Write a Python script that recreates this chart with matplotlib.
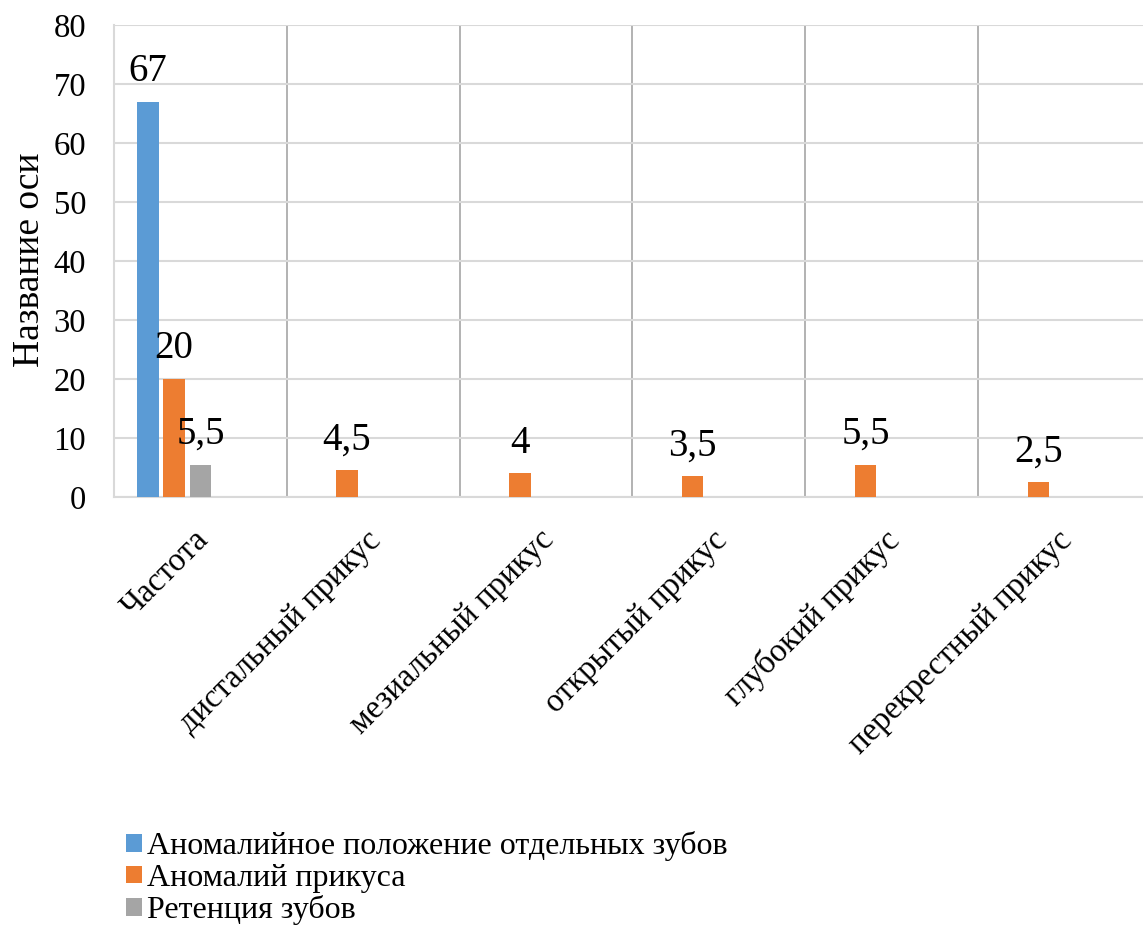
import matplotlib.pyplot as plt
import matplotlib.transforms as mtransforms
import numpy as np

plt.rcParams['font.family'] = ['Liberation Serif', 'DejaVu Serif']

categories = ["Частота", "дистальный прикус", "мезиальный прикус",
              "открытый прикус", "глубокий прикус", "перекрестный прикус"]
series_names = ["Аномалийное положение отдельных зубов", "Аномалий прикуса", "Ретенция зубов"]
teeth = [67, 0, 0, 0, 0, 0]
bite = [20, 4.5, 4, 3.5, 5.5, 2.5]
retention = [5.5, 0, 0, 0, 0, 0]
colors = ["#5B9BD5", "#ED7D31", "#A5A5A5"]

fig = plt.figure(figsize=(11.43, 9.30), dpi=100)
ax = fig.add_axes([114 / 1143, 433 / 930, 1037 / 1143, 472 / 930])

x = np.arange(len(categories))
pitch = 0.152
width = 0.125
offsets = [-2, -1, 0]

for vals, name, col, off in zip([teeth, bite, retention], series_names, colors, offsets):
    bars = ax.bar(x + off * pitch, vals, width, color=col, label=name, zorder=3)
    for b, v in zip(bars, vals):
        if v:
            txt = ("%g" % v).replace(".", ",")
            ax.text(b.get_x() + b.get_width() / 2, v + 2.0, txt,
                    ha="center", va="bottom", fontsize=28, zorder=4)

ax.set_xlim(-0.5, 5.5)
ax.set_ylim(0, 80)
ax.set_yticks(range(0, 81, 10))
ax.set_xticks(x)
ax.set_xticks(x[:-1] + 0.5, minor=True)
ax.tick_params(axis="y", length=0, labelsize=23.5, pad=20)
ax.tick_params(axis="x", which="both", length=0, pad=20)
ax.set_xticklabels(categories, rotation=45, ha="right", fontsize=23.5)
# nudge the rotated labels so their upper right corner sits just past the category centre
shift = mtransforms.ScaledTranslation(14 / 100, 0, fig.dpi_scale_trans)
for lab in ax.xaxis.get_majorticklabels():
    lab.set_transform(lab.get_transform() + shift)
ax.grid(axis="y", color="#d9d9d9", linewidth=1.5, zorder=0)
ax.grid(axis="x", which="minor", color="#a6a6a6", linewidth=1.2, zorder=0)
for s in ["top", "right"]:
    ax.spines[s].set_visible(False)
ax.spines["left"].set_color("#d9d9d9")
ax.spines["bottom"].set_color("#d9d9d9")
ax.spines["left"].set_linewidth(1.5)
ax.spines["bottom"].set_linewidth(1.5)
ax.set_ylabel("Название оси", fontsize=27)
ax.yaxis.set_label_coords(-0.0646, 0.502)

fig.legend(loc="lower left", bbox_to_anchor=(113 / 1143, -8 / 930), frameon=False,
           fontsize=23, handlelength=0.5, handleheight=0.47, handletextpad=0.16,
           labelspacing=0.08, borderaxespad=0)

fig.savefig("out.png", dpi=100)
